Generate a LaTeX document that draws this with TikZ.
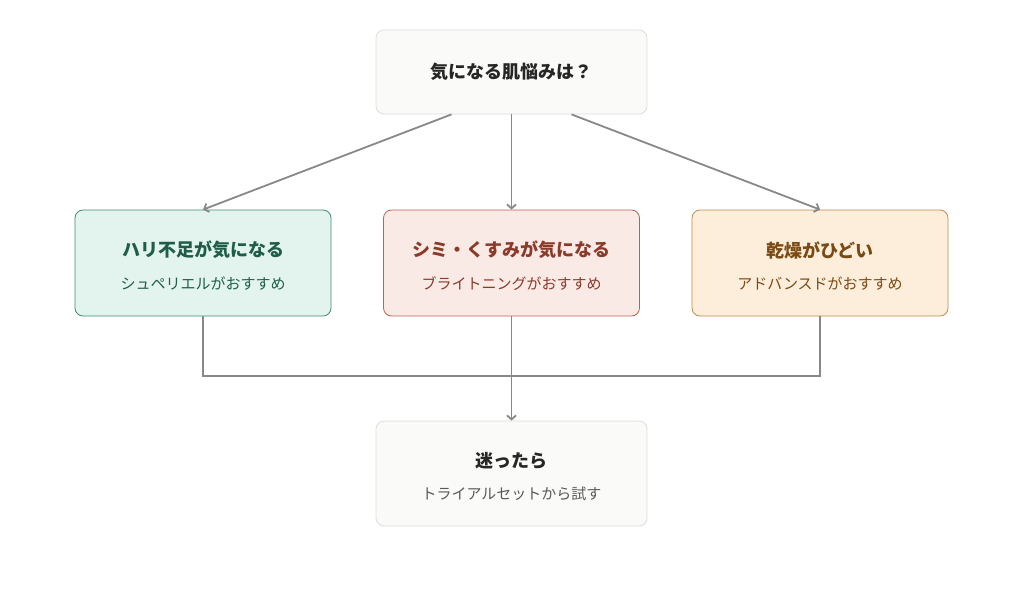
\documentclass[tikz,border=0pt]{standalone}
\usepackage{fontspec}
\setmainfont{Noto Sans CJK JP}
\usetikzlibrary{calc,arrows.meta}
\definecolor{grnfill}{HTML}{E3F4EE}
\definecolor{grnline}{HTML}{3D8C6E}
\definecolor{grntext}{HTML}{1E5E48}
\definecolor{redfill}{HTML}{FAEAE6}
\definecolor{redline}{HTML}{C0604C}
\definecolor{redtext}{HTML}{8B3A2A}
\definecolor{orgfill}{HTML}{FCEEDB}
\definecolor{orgline}{HTML}{C08A4A}
\definecolor{orgtext}{HTML}{7A4A14}
\definecolor{neufill}{HTML}{FAFAF8}
\definecolor{neuline}{HTML}{DDDDDA}
\definecolor{arrgray}{HTML}{888888}
\tikzstyle{box}=[draw,rounded corners=8pt,line width=0.8pt,minimum width=256pt,minimum height=106pt,inner sep=0pt,align=center]
\tikzstyle{ttl}=[font=\fontsize{18}{22}\selectfont\bfseries]
\tikzstyle{sub}=[font=\fontsize{15}{18}\selectfont]
\tikzstyle{conn}=[draw=arrgray,line width=1.8pt]
\tikzstyle{arr}=[conn,-{Straight Barb[length=4pt,width=9pt]}]
\begin{document}
\begin{tikzpicture}[x=1pt,y=-1pt]
\useasboundingbox (0,0) rectangle (1024,603);
\node[box,draw=neuline,fill=neufill,minimum width=271pt,minimum height=84pt] at (511.5,72) (q) {};
\node[ttl,text=black!85] at (511.5,72) {気になる肌悩みは？};
\node[box,draw=grnline,fill=grnfill] at (203,263) (g) {};
\node[ttl,text=grntext] at (203,250) {ハリ不足が気になる};
\node[sub,text=grntext] at (203,284) {シュペリエルがおすすめ};
\node[box,draw=redline,fill=redfill] at (511.5,263) (r) {};
\node[ttl,text=redtext] at (511.5,250) {シミ・くすみが気になる};
\node[sub,text=redtext] at (511.5,284) {ブライトニングがおすすめ};
\node[box,draw=orgline,fill=orgfill] at (820,263) (o) {};
\node[ttl,text=orgtext] at (820,250) {乾燥がひどい};
\node[sub,text=orgtext] at (820,284) {アドバンスドがおすすめ};
\node[box,draw=neuline,fill=neufill,minimum width=271pt,minimum height=105pt] at (511.5,473.5) (t) {};
\node[ttl,text=black!85] at (511.5,461) {迷ったら};
\node[sub,text=black!65] at (511.5,494) {トライアルセットから試す};
\coordinate (ql) at ($(q.south)+(-60,0)$);
\coordinate (qr) at ($(q.south)+(60,0)$);
\draw[arr] (ql) -- (g.north);
\draw[arr] (q.south) -- (r.north);
\draw[arr] (qr) -- (o.north);
\draw[conn] (g.south) |- (511.5,376) -| (o.south);
\draw[arr] (r.south) -- (t.north);
\end{tikzpicture}
\end{document}
